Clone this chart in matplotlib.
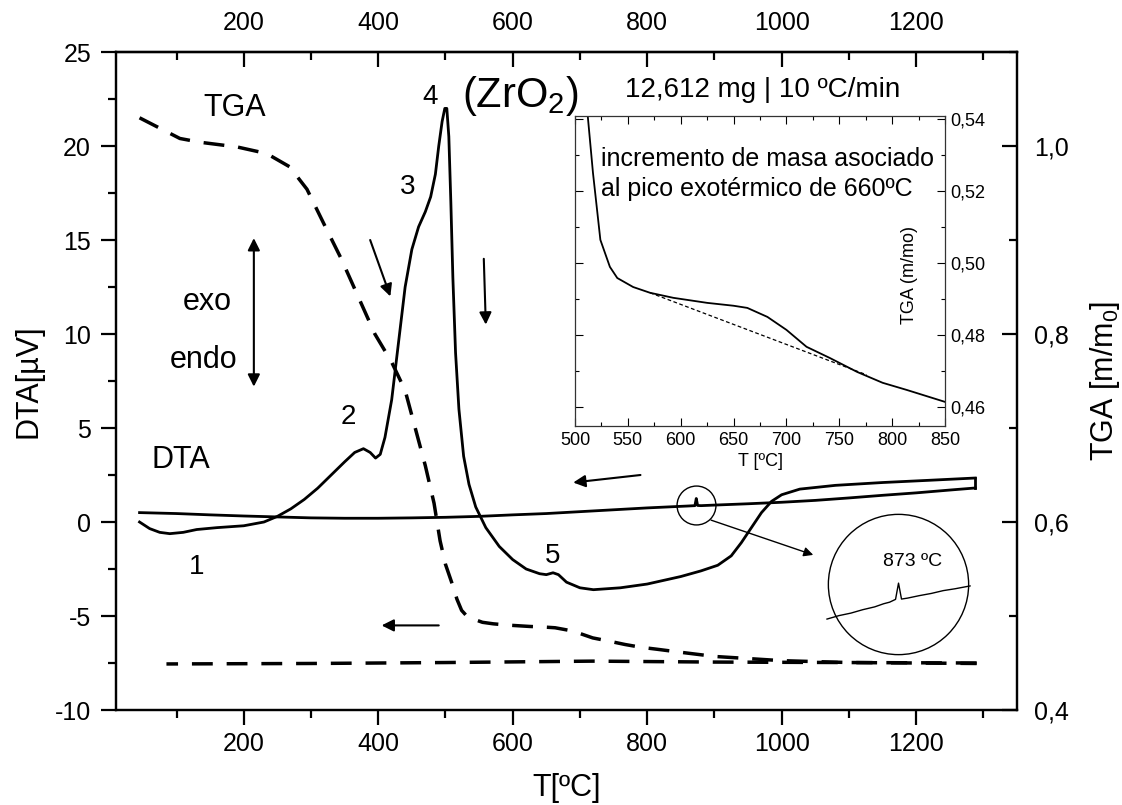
import numpy as np
import matplotlib
matplotlib.use('Agg')
import matplotlib.pyplot as plt
from matplotlib.ticker import MultipleLocator, FuncFormatter

plt.rcParams['font.family'] = ['Liberation Sans', 'DejaVu Sans']
plt.rcParams['axes.unicode_minus'] = False
plt.rcParams['mathtext.fontset'] = 'custom'
plt.rcParams['mathtext.rm'] = 'Liberation Sans'
plt.rcParams['mathtext.it'] = 'Liberation Sans:italic'
plt.rcParams['mathtext.bf'] = 'Liberation Sans:bold'

# ---------------- data ----------------
dta_heat_T = [45, 60, 75, 90, 110, 130, 160, 200, 230, 250, 270, 290, 310, 330, 350, 365,
              378, 388, 396, 403, 410, 420, 430, 440, 450, 460, 470, 478, 485, 490, 495,
              499, 502, 505, 508, 511, 515, 520, 527, 535, 545, 560, 580, 600, 620, 640,
              650, 660, 668, 680, 700, 720, 760, 800, 850, 880, 905, 925, 940, 955, 970,
              985, 1000, 1027, 1080, 1150, 1220, 1288]
dta_heat_V = [0.0, -0.35, -0.55, -0.62, -0.55, -0.4, -0.3, -0.2, 0.0, 0.3, 0.7, 1.2, 1.8, 2.5,
              3.2, 3.7, 3.9, 3.7, 3.4, 3.6, 4.5, 6.5, 9.5, 12.5, 14.5, 15.7, 16.5, 17.3, 18.5,
              20.0, 21.3, 22.0, 22.0, 20.5, 17.0, 13.0, 9.0, 6.0, 3.5, 2.0, 0.8, -0.3, -1.3,
              -2.0, -2.5, -2.75, -2.8, -2.7, -2.8, -3.2, -3.5, -3.6, -3.5, -3.3, -2.9, -2.6,
              -2.3, -1.8, -1.1, -0.3, 0.5, 1.1, 1.45, 1.75, 1.95, 2.1, 2.22, 2.34]

dta_cool_T = [1288, 1250, 1200, 1150, 1100, 1050, 1000, 950, 900, 880, 875, 873, 871, 860,
              800, 750, 700, 650, 600, 550, 500, 450, 400, 350, 300, 250, 200, 150, 100, 45]
dta_cool_V = [1.81, 1.70, 1.55, 1.42, 1.28, 1.15, 1.05, 0.97, 0.90, 0.87, 0.88, 1.25, 0.87,
              0.85, 0.75, 0.65, 0.55, 0.45, 0.38, 0.30, 0.25, 0.22, 0.20, 0.20, 0.22, 0.27,
              0.32, 0.38, 0.45, 0.50]

tga_heat_T = [45, 105, 135, 190, 234, 268, 294, 320, 345, 370, 395, 420, 440, 455, 470, 483,
              492, 500, 512, 517, 524, 533, 555, 571, 593, 625, 650, 663, 682, 700, 719, 741,
              767, 791, 814, 850, 900, 1000, 1100, 1200, 1290]
tga_heat_M = [1.030, 1.008, 1.004, 0.999, 0.992, 0.978, 0.954, 0.916, 0.880, 0.840, 0.800,
              0.770, 0.740, 0.700, 0.660, 0.620, 0.580, 0.555, 0.530, 0.518, 0.506, 0.4989,
              0.4933, 0.4917, 0.4903, 0.4889, 0.4881, 0.4875, 0.4850, 0.4814, 0.4767, 0.4736,
              0.4697, 0.4667, 0.4647, 0.4614, 0.457, 0.4525, 0.4505, 0.450, 0.4495]

tga_cool_T = [1290, 1100, 900, 719, 500, 300, 85]
tga_cool_M = [0.4500, 0.4505, 0.4510, 0.4520, 0.4505, 0.4495, 0.4490]

inset_T = [512, 517, 524, 533, 540, 555, 571, 593, 625, 650, 663, 682, 700, 719, 741, 767,
           791, 814, 850]
inset_M = [0.541, 0.525, 0.5064, 0.4989, 0.4958, 0.4933, 0.4917, 0.4903, 0.4889, 0.4881,
           0.4875, 0.4850, 0.4814, 0.4767, 0.4736, 0.4697, 0.4667, 0.4647, 0.4614]
baseline_T = [571, 776]
baseline_M = [0.4917, 0.4689]

zoom_T = [849, 853, 857, 861, 865, 868, 870, 872, 873, 874, 876, 880, 884, 888, 892, 897]
zoom_V = [0.799, 0.810, 0.818, 0.829, 0.838, 0.848, 0.853, 0.862, 0.914, 0.863, 0.866,
          0.874, 0.881, 0.890, 0.896, 0.905]

x_ticks = [200, 400, 600, 800, 1000, 1200]
dta_ticks = [-10, -5, 0, 5, 10, 15, 20, 25]
tga_ticks = [0.4, 0.6, 0.8, 1.0]
inset_xticks = [500, 550, 600, 650, 700, 750, 800, 850]
inset_yticks = [0.46, 0.48, 0.50, 0.52, 0.54]


def comma(v, pos=None, nd=1):
    return f"{v:.{nd}f}".replace('.', ',')


# ---------------- figure ----------------
fig = plt.figure(figsize=(11.22, 8.05), dpi=100)
ax = fig.add_axes([0.1034, 0.1180, 0.8030, 0.8174])
ax.set_xlim(10, 1350)
ax.set_ylim(-10, 25)

ax.plot(dta_heat_T, dta_heat_V, color='black', lw=2.0)
ax.plot(dta_cool_T, dta_cool_V, color='black', lw=2.0)
ax.plot([dta_heat_T[-1], dta_cool_T[0]], [dta_heat_V[-1], dta_cool_V[0]], color='black', lw=2.0)

for s in ax.spines.values():
    s.set_linewidth(1.6)
ax.set_xticks(x_ticks)
ax.set_yticks(dta_ticks)
ax.xaxis.set_minor_locator(MultipleLocator(100))
ax.yaxis.set_minor_locator(MultipleLocator(2.5))
ax.tick_params(which='major', direction='out', length=11, width=1.6, labelsize=18)
ax.tick_params(which='minor', direction='out', length=6, width=1.6)
ax.tick_params(axis='x', pad=5)
ax.tick_params(axis='y', pad=7)
ax.set_xlabel('T[ºC]', fontsize=22, labelpad=12)
ax.set_ylabel('DTA[µV]', fontsize=22, labelpad=8)

top = ax.secondary_xaxis('top')
top.set_xticks(x_ticks)
top.xaxis.set_minor_locator(MultipleLocator(100))
top.tick_params(which='major', direction='in', length=11, width=1.6, labelsize=18, pad=12)
top.tick_params(which='minor', direction='in', length=6, width=1.6)
top.spines['top'].set_linewidth(1.6)

ax2 = ax.twinx()
ax2.set_ylim(0.4, 1.1)
ax2.plot(tga_heat_T, tga_heat_M, color='black', lw=2.5, ls=(0, (6, 4)))
ax2.plot(tga_cool_T, tga_cool_M, color='black', lw=2.5, ls=(0, (6, 4)))
ax2.set_yticks(tga_ticks)
ax2.yaxis.set_major_formatter(FuncFormatter(lambda v, p: comma(v, p, 1)))
ax2.yaxis.set_minor_locator(MultipleLocator(0.1))
ax2.tick_params(which='major', direction='in', length=11, width=1.6, labelsize=18, pad=12)
ax2.tick_params(which='minor', direction='in', length=6, width=1.6)
ax2.set_ylabel('TGA [m/m$_0$]', fontsize=22, labelpad=14)
for s in ax2.spines.values():
    s.set_linewidth(1.6)

# ---------------- texts ----------------
ax.text(187, 22.0, 'TGA', fontsize=22, ha='center', va='center')
ax.text(106, 3.3, 'DTA', fontsize=22, ha='center', va='center')
ax.text(130, -2.4, '1', fontsize=20, ha='center', va='center')
ax.text(355, 5.6, '2', fontsize=20, ha='center', va='center')
ax.text(443, 17.8, '3', fontsize=20, ha='center', va='center')
ax.text(477, 22.6, '4', fontsize=20, ha='center', va='center')
ax.text(660, -1.8, '5', fontsize=20, ha='center', va='center')
ax.text(145, 11.7, 'exo', fontsize=22, ha='center', va='center')
ax.text(140, 8.6, 'endo', fontsize=22, ha='center', va='center')
ax.text(524, 22.07, '(ZrO$_2$)', fontsize=30, ha='left', va='baseline')
ax.text(971, 22.6, '12,612 mg | 10 ºC/min', fontsize=20, ha='center', va='baseline')

arrow = dict(arrowstyle='-|>', color='black', lw=1.5, mutation_scale=18, shrinkA=0, shrinkB=0)
darrow = dict(arrowstyle='<|-|>', color='black', lw=1.5, mutation_scale=18, shrinkA=0, shrinkB=0)
ax.annotate('', xy=(215, 7.2), xytext=(215, 15.1), arrowprops=darrow)
ax.annotate('', xy=(418, 12.0), xytext=(388, 15.0), arrowprops=arrow)
ax.annotate('', xy=(560, 10.5), xytext=(557, 14.0), arrowprops=arrow)
ax.annotate('', xy=(690, 2.1), xytext=(790, 2.5), arrowprops=arrow)
ax.annotate('', xy=(405, -5.5), xytext=(490, -5.5), arrowprops=arrow)
ax.annotate('', xy=(1047, -1.75), xytext=(895, 0.1),
            arrowprops=dict(arrowstyle='-|>', color='black', lw=1.0, mutation_scale=14,
                            shrinkA=0, shrinkB=0))

ax.plot([873], [0.9], marker='o', ms=28, mfc='none', mec='black', mew=1.0)
ax.plot([1173], [-3.3], marker='o', ms=101, mfc='none', mec='black', mew=1.0)
ax.text(1195, -2.1, '873 ºC', fontsize=14, ha='center', va='center')

# magnified small peak inside the big circle
zax = fig.add_axes([820 / 1122, 1 - 625 / 805, 160 / 1122, 50 / 805])
zax.set_xlim(849 - 7 / 2.98, 849 + 153 / 2.98)
zax.set_ylim(0.78, 0.94)
zax.plot(zoom_T, zoom_V, color='black', lw=1.0)
zax.axis('off')
zax.patch.set_alpha(0)

# ---------------- inset ----------------
iax = fig.add_axes([575 / 1122, 1 - 426 / 805, 370 / 1122, 310 / 805])
iax.set_xlim(500, 850)
iax.set_ylim(0.4547, 0.5408)
iax.plot(inset_T, inset_M, color='black', lw=1.3)
iax.plot(baseline_T, baseline_M, color='black', lw=0.9, ls=(0, (3, 2)))
iax.set_xticks(inset_xticks)
iax.set_yticks(inset_yticks)
iax.xaxis.set_minor_locator(MultipleLocator(25))
iax.yaxis.set_minor_locator(MultipleLocator(0.01))
iax.yaxis.tick_right()
iax.yaxis.set_major_formatter(FuncFormatter(lambda v, p: comma(v, p, 2)))
iax.tick_params(which='both', direction='in', top=True, left=True, right=True, bottom=True,
                labelsize=13, width=0.8)
iax.tick_params(which='major', length=6, pad=4)
iax.tick_params(which='minor', length=3)
for s in iax.spines.values():
    s.set_linewidth(0.9)
    s.set_color('#333333')
iax.set_xlabel('T [ºC]', fontsize=13, labelpad=3)
iax.text(0.905, 0.487, 'TGA (m/mo)', fontsize=13, rotation=90, ha='center', va='center',
         transform=iax.transAxes)
iax.text(0.07, 0.90, 'incremento de masa asociado\nal pico exotérmico de 660ºC',
         fontsize=18, ha='left', va='top', transform=iax.transAxes, linespacing=1.3)

fig.savefig('out.png', dpi=100)
